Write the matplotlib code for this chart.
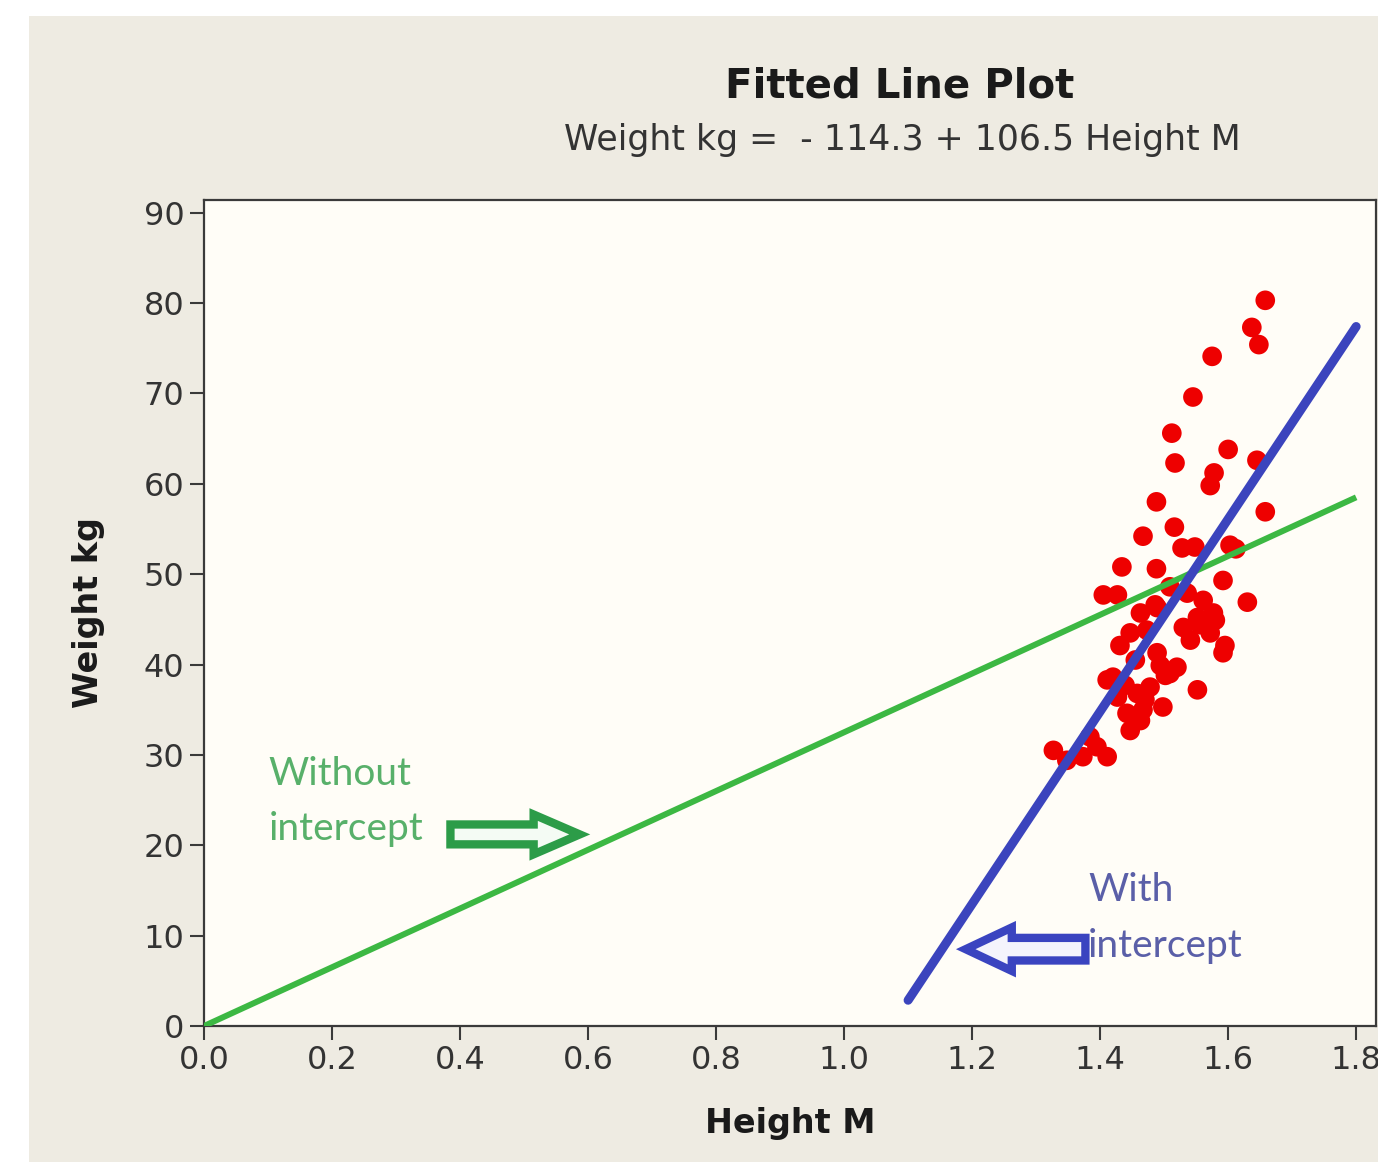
import matplotlib
matplotlib.use("Agg")
import matplotlib.pyplot as plt
from matplotlib.patches import Rectangle, FancyArrow
import numpy as np

# ---------------- data ----------------
height_m = [1.658, 1.637, 1.648, 1.575, 1.545, 1.512, 1.517, 1.600, 1.645, 1.578,
            1.572, 1.488, 1.658, 1.516, 1.467, 1.528, 1.548, 1.603, 1.612, 1.434,
            1.488, 1.592, 1.405, 1.427, 1.630, 1.592, 1.552, 1.463, 1.489, 1.447,
            1.473, 1.536, 1.561, 1.552, 1.530, 1.577, 1.572, 1.509, 1.420, 1.489,
            1.509, 1.520, 1.427, 1.458, 1.478, 1.498, 1.442, 1.467, 1.447, 1.411,
            1.327, 1.373, 1.395, 1.411, 1.348, 1.384, 1.541, 1.580, 1.595, 1.455,
            1.494, 1.556, 1.439, 1.470, 1.502, 1.463, 1.431, 1.486]
weight_kg = [80.3, 77.3, 75.4, 74.1, 69.6, 65.6, 62.3, 63.8, 62.6, 61.2,
             59.8, 58.0, 56.9, 55.2, 54.2, 52.9, 53.0, 53.2, 52.8, 50.8,
             50.6, 49.3, 47.7, 47.7, 46.9, 41.3, 37.2, 45.7, 46.3, 43.5,
             43.8, 47.9, 47.1, 45.2, 44.1, 45.7, 43.5, 48.6, 38.6, 41.3,
             39.0, 39.7, 36.4, 36.8, 37.5, 35.3, 34.6, 35.0, 32.7, 38.3,
             30.5, 29.8, 30.9, 29.8, 29.4, 32.0, 42.7, 44.9, 42.1, 40.5,
             39.9, 44.4, 37.7, 36.1, 38.8, 33.8, 42.1, 46.6]

intercept_fit = (-114.3, 106.5)     # with intercept
slope_no_int = 32.5                 # without intercept
fit_x_range = (1.10, 1.80)
noint_x_range = (0.0, 1.80)

title = "Fitted Line Plot"
subtitle = "Weight kg =  - 114.3 + 106.5 Height M"
xticks = [0.0, 0.2, 0.4, 0.6, 0.8, 1.0, 1.2, 1.4, 1.6, 1.8]
yticks = [0, 10, 20, 30, 40, 50, 60, 70, 80, 90]

# ---------------- figure ----------------
W, H = 1378, 1162
fig = plt.figure(figsize=(W / 100, H / 100), dpi=100, facecolor="white")
bg = Rectangle((29 / W, 0), 1 - 29 / W, 1 - 16 / H,
               transform=fig.transFigure, facecolor="#eeebe2",
               edgecolor="none", zorder=-10)
fig.add_artist(bg)

ax = fig.add_axes([204 / W, 1 - 1026 / H, (1376 - 204) / W, (1026 - 200) / H])
ax.set_zorder(1)
ax.set_facecolor("#fffdf7")
ax.set_xlim(0, 1.831)
ax.set_ylim(0, 91.4)

# lines
xn = np.array(noint_x_range)
ax.plot(xn, slope_no_int * xn, color="#3cb843", lw=4.3, zorder=3, solid_capstyle="butt")
xf = np.array(fit_x_range)
ax.plot(xf, intercept_fit[0] + intercept_fit[1] * xf, color="#3b44bd", lw=6.5,
        zorder=4, solid_capstyle="round")

ax.scatter(height_m, weight_kg, s=200, color="#ee0000", edgecolors="none", zorder=2)

# annotations
ax.text(0.101, 27.9, "Without", color="#58b06a", fontsize=28, family="Lato",
        va="center", ha="left")
ax.text(0.101, 21.8, "intercept", color="#58b06a", fontsize=28, family="Lato",
        va="center", ha="left")
ax.add_patch(FancyArrow(0.385, 21.2, 0.13, 0, width=2.2, head_width=4.4,
                        head_length=0.072, length_includes_head=False,
                        facecolor="#f4fbf4", edgecolor="#2c9c48", lw=6, zorder=5))
ax.text(1.381, 15.0, "With", color="#5a5fa8", fontsize=28, family="Lato",
        va="center", ha="left")
ax.text(1.381, 8.8, "intercept", color="#5a5fa8", fontsize=28, family="Lato",
        va="center", ha="left")
ax.add_patch(FancyArrow(1.377, 8.5, -0.115, 0, width=2.5, head_width=4.8,
                        head_length=0.072, length_includes_head=False,
                        facecolor="#f4f4fc", edgecolor="#3a44c0", lw=6, zorder=5))

# axes style
for sp in ax.spines.values():
    sp.set_color("#3a3a3a")
    sp.set_linewidth(1.6)
ax.set_xticks(xticks)
ax.set_xticklabels([f"{v:.1f}" for v in xticks])
ax.set_yticks(yticks)
ax.set_yticklabels([str(v) for v in yticks])
ax.tick_params(direction="out", length=10, width=1.5, color="#3a3a3a",
               labelsize=23, labelcolor="#333333", pad=4)

ax.set_xlabel("Height M", fontsize=24, fontweight="bold", color="#1a1a1a", labelpad=22)
ax.set_ylabel("Weight kg", fontsize=24, fontweight="bold", color="#1a1a1a", labelpad=28)

fig.text(900 / W, 1 - 87 / H, title, fontsize=29, fontweight="bold", color="#1a1a1a",
         ha="center", va="center")
fig.text(902 / W, 1 - 140 / H, subtitle, fontsize=25, color="#333333",
         ha="center", va="center")

fig.savefig("out.png", dpi=100, facecolor=fig.get_facecolor())
